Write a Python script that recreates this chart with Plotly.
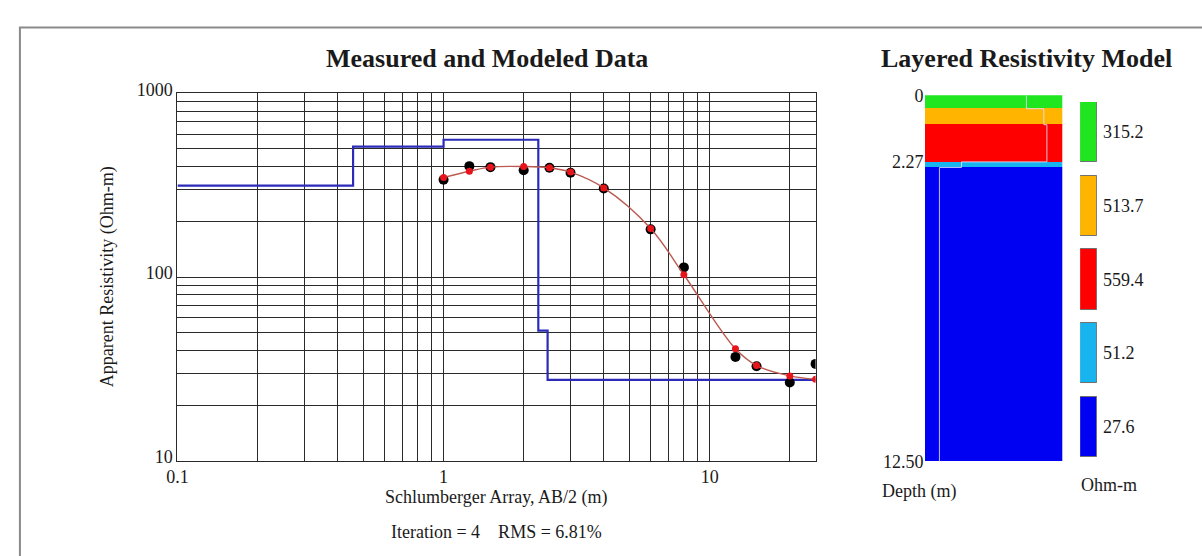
import plotly.graph_objects as go
import numpy as np

# ---------------- data ----------------
ab2 = [1.0, 1.25, 1.5, 2.0, 2.5, 3.0, 4.0, 6.0, 8.0, 12.5, 15.0, 20.0, 25.0]
rho_measured = [339, 402, 397, 382, 394, 370, 304, 182, 113, 36.8, 32.7, 26.7, 33.7]
rho_modeled = [349, 377, 397, 400, 394, 373, 306, 184, 103, 40.7, 33.0, 29.0, 27.8]

layer_top = [0.0, 0.457, 1.0, 2.27, 2.46]
layer_rho = [315.2, 513.7, 559.4, 51.2, 27.6]
layer_color = ["#1fe61f", "#ffb400", "#fe0000", "#18b4f0", "#0000f2"]
max_depth = 12.5

x_min, x_max = 0.1, 25
y_min, y_max = 10, 1000
iteration = 4
rms = 6.81

x_ticks = [round(0.1 * k, 1) for k in range(1, 10)] + list(range(1, 10)) + [10, 20]
x_ticktext = ["0.1" if v == 0.1 else ("1" if v == 1 else ("10" if v == 10 else "")) for v in x_ticks]
y_ticks = list(range(10, 100, 10)) + list(range(100, 1000, 100)) + [1000]
y_ticktext = [str(v) if v in (10, 100, 1000) else "" for v in y_ticks]

FONT = "Liberation Serif"
W, H = 1202, 556

def px(x):
    return x / W

def py(y):
    return 1 - y / H

fig = go.Figure()

# model step curve
step_x = [x_min] + layer_top[1:] + [x_max]
step_y = layer_rho + [layer_rho[-1]]
fig.add_trace(go.Scatter(x=step_x, y=step_y, mode="lines", line_shape="hv",
                         line=dict(color="#2b2bb8", width=2.2), xaxis="x", yaxis="y",
                         showlegend=False, hoverinfo="skip"))
# measured
fig.add_trace(go.Scatter(x=ab2, y=rho_measured, mode="markers",
                         marker=dict(color="black", size=10), xaxis="x", yaxis="y",
                         showlegend=False))
# modeled
fig.add_trace(go.Scatter(x=ab2, y=rho_modeled, mode="lines+markers", line_shape="spline",
                         line=dict(color="#bb5a52", width=1.4),
                         marker=dict(color="#e8141c", size=7), xaxis="x", yaxis="y",
                         showlegend=False))

# layered column
thick = [layer_top[i + 1] - layer_top[i] for i in range(len(layer_top) - 1)] + [max_depth - layer_top[-1]]
fig.add_trace(go.Bar(x=[0] * len(thick), y=thick, base=layer_top, width=1,
                     marker=dict(color=layer_color, line=dict(width=0)),
                     xaxis="x2", yaxis="y2", showlegend=False, hoverinfo="skip"))
# resistivity trace inside column (log scale)
fig.add_trace(go.Scatter(x=layer_rho + [layer_rho[-1]], y=layer_top + [max_depth], mode="lines",
                         line_shape="vh", line=dict(color="rgba(225,225,255,0.85)", width=1),
                         xaxis="x4", yaxis="y2", showlegend=False, hoverinfo="skip"))

# colour swatches
idx = list(range(len(layer_rho)))
fig.add_trace(go.Bar(y=idx, x=[1] * len(idx), orientation="h", width=0.818,
                     marker=dict(color=layer_color, line=dict(color="#707070", width=1)),
                     xaxis="x3", yaxis="y3", showlegend=False, hoverinfo="skip"))

annotations = [
    dict(text="<b>Measured and Modeled Data</b>", x=px(480), y=py(46), font=dict(size=26)),
    dict(text="<b>Layered Resistivity Model</b>", x=px(1025), y=py(46), font=dict(size=26)),
    dict(text="Schlumberger Array, AB/2 (m)", x=px(489), y=py(505), font=dict(size=18)),
    dict(text=f"Iteration = {iteration}\u00a0\u00a0\u00a0\u00a0RMS = {rms:.2f}%", x=px(490), y=py(541), font=dict(size=18)),
    dict(text="Apparent Resistivity (Ohm-m)", x=px(97), y=py(275), textangle=-90, font=dict(size=18)),
    dict(text="Depth (m)", x=px(916), y=py(499), font=dict(size=18)),
    dict(text="Ohm-m", x=px(1108), y=py(492), font=dict(size=18)),
]
for a in annotations:
    a.update(xref="paper", yref="paper", showarrow=False, xanchor="center", yanchor="middle")
for i, r in enumerate(layer_rho):
    annotations.append(dict(text=f"{r}", xref="paper", yref="y3", x=px(1100), y=i,
                            xanchor="left", yanchor="middle", showarrow=False, font=dict(size=18)))

fig.update_layout(
    width=W, height=H,
    margin=dict(l=0, r=0, t=0, b=0),
    paper_bgcolor="white", plot_bgcolor="white",
    font=dict(family=FONT, color="#1a1a1a", size=18),
    barmode="overlay", bargap=0,
    xaxis=dict(type="log", range=[np.log10(x_min), np.log10(x_max)],
               domain=[px(168), px(812)], tickvals=x_ticks, ticktext=x_ticktext,
               showgrid=True, gridcolor="#2a2a2a", gridwidth=1, showline=True, mirror=True,
               linecolor="#2a2a2a", linewidth=1, ticks="", zeroline=False,
               tickfont=dict(size=18), anchor="y"),
    yaxis=dict(type="log", range=[np.log10(y_min), np.log10(y_max)],
               domain=[py(467), py(83)], tickvals=y_ticks, ticktext=y_ticktext,
               showgrid=True, gridcolor="#2a2a2a", gridwidth=1, showline=True, mirror=True,
               linecolor="#2a2a2a", linewidth=1, ticks="", zeroline=False,
               tickfont=dict(size=18), ticklabelshift=-4, anchor="x"),
    xaxis2=dict(domain=[px(922), px(1061)], range=[-0.5, 0.5], visible=False, anchor="y2"),
    yaxis2=dict(domain=[py(468), py(85)], range=[max_depth, 0], anchor="x2",
                tickvals=[0, layer_top[3], max_depth],
                ticktext=["0", f"{layer_top[3]:.2f}", f"{max_depth:.2f}"],
                showgrid=False, zeroline=False, showline=False, ticks="",
                tickfont=dict(size=18)),
    xaxis4=dict(type="log", overlaying="x2", range=[1.2603, 2.935], visible=False, anchor="y2"),
    xaxis3=dict(domain=[px(1079), px(1096)], range=[-0.02, 1.02], visible=False, anchor="y3"),
    yaxis3=dict(domain=[py(463), py(92)], range=[4.41, -0.41], visible=False, anchor="x3"),
    annotations=annotations,
    shapes=[dict(type="rect", xref="paper", yref="paper", x0=px(9), x1=1.05, y0=-0.1, y1=py(14),
                 line=dict(color="#8a8a8a", width=2), fillcolor="rgba(0,0,0,0)", layer="above")],
)

fig.write_html("out.html")
